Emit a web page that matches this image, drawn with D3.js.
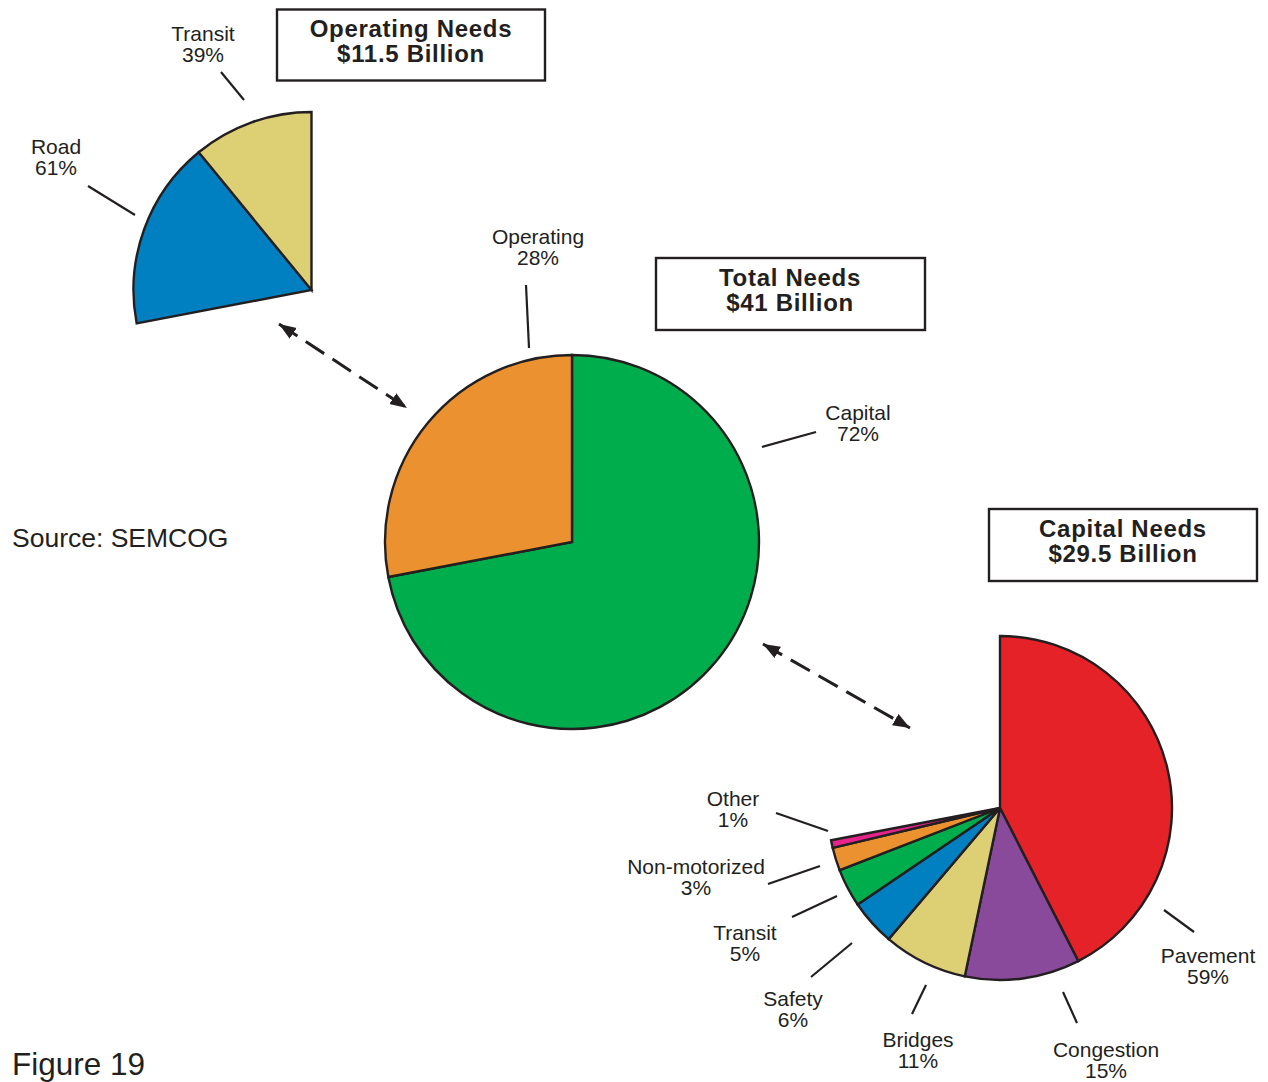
<!DOCTYPE html>
<html>
<head>
<meta charset="utf-8">
<script src="https://cdn.jsdelivr.net/npm/d3@7"></script>
<style>
  html, body { margin: 0; padding: 0; background: #ffffff; }
  svg { display: block; }
  text { font-family: "Liberation Sans", Arial, Helvetica, sans-serif; fill: #231F20; }
</style>
</head>
<body>
<svg id="chart" width="1268" height="1082"></svg>
<script>
// ---------------- DATA ----------------
const totalCategories = ["Capital", "Operating"];
const totalValues = [72, 28];

const operatingCategories = ["Road", "Transit"];
const operatingValues = [61, 39];

const capitalCategories = ["Pavement", "Congestion", "Bridges", "Safety", "Transit", "Non-motorized", "Other"];
const capitalValues = [59, 15, 11, 6, 5, 3, 1];

const titles = {
  total: ["Total Needs", "$41 Billion"],
  operating: ["Operating Needs", "$11.5 Billion"],
  capital: ["Capital Needs", "$29.5 Billion"]
};
const sourceText = "Source: SEMCOG";
const figureText = "Figure 19";

// ---------------- STYLE / LAYOUT ----------------
const totalColors = ["#00AD4D", "#EC9130"];
const operatingColors = ["#0080C0", "#DDCF73"];
const capitalColors = ["#E42228", "#8A4A9C", "#DDCF73", "#0080C0", "#00AD4D", "#EC9130", "#E6228B"];
const ink = "#231F20";

const totalPie = { cx: 572, cy: 542, r: 187 };
const opPie = { cx: 311.5, cy: 290, r: 178 };
const capPie = { cx: 1000, cy: 808, r: 172 };

// label layout: [text center x, first baseline y, leader x1, y1, x2, y2]
const totalLabelLayout = {
  Capital: [858, 420, 762, 447, 816, 432],
  Operating: [538, 244, 526, 285, 529, 348]
};
const opLabelLayout = {
  Road: [56, 154, 88, 186, 135, 215],
  Transit: [203, 41, 221, 72, 244, 100]
};
const capLabelLayout = {
  "Pavement": [1208, 963, 1164, 910, 1194, 932],
  "Congestion": [1106, 1057, 1063, 992, 1077, 1023],
  "Bridges": [918, 1047, 926, 985, 912, 1014],
  "Safety": [793, 1006, 811, 977, 852, 943],
  "Transit": [745, 940, 792, 917, 837, 896],
  "Non-motorized": [696, 874, 768, 884, 820, 866],
  "Other": [733, 806, 776, 813, 828, 831]
};

const boxes = {
  total: { x: 656, y: 258, w: 269, h: 72, cx: 790, b1: 286, b2: 311 },
  operating: { x: 277, y: 9.5, w: 268, h: 71, cx: 411, b1: 37, b2: 62 },
  capital: { x: 989, y: 509, w: 268, h: 72, cx: 1123, b1: 537, b2: 562 }
};

const arrows = [
  [279, 324, 407, 408],
  [763, 644, 910, 728]
];

// ---------------- DRAW ----------------
const svg = d3.select("#chart");

const defs = svg.append("defs");
defs.append("marker")
  .attr("id", "head")
  .attr("viewBox", "0 -7 17 14")
  .attr("refX", 17).attr("refY", 0)
  .attr("markerWidth", 17).attr("markerHeight", 14)
  .attr("markerUnits", "userSpaceOnUse")
  .attr("orient", "auto-start-reverse")
  .append("path")
  .attr("d", "M0,-6.5L17,0L0,6.5Z")
  .attr("fill", ink);

function drawPie(cfg, cats, vals, colors, start, end) {
  const pie = d3.pie().sort(null).value(d => d.v).startAngle(start).endAngle(end);
  const data = pie(cats.map((c, i) => ({ c, v: vals[i], col: colors[i] })));
  const arc = d3.arc().innerRadius(0).outerRadius(cfg.r);
  const g = svg.append("g").attr("transform", `translate(${cfg.cx},${cfg.cy})`);
  g.selectAll("path").data(data).join("path")
    .attr("d", arc)
    .attr("fill", d => d.data.col)
    .attr("stroke", ink)
    .attr("stroke-width", 2.4)
    .attr("stroke-linejoin", "miter");
  return data;
}

function drawLabels(layout, cats, vals) {
  cats.forEach((c, i) => {
    const L = layout[c];
    svg.append("line")
      .attr("x1", L[2]).attr("y1", L[3]).attr("x2", L[4]).attr("y2", L[5])
      .attr("stroke", ink).attr("stroke-width", 2.2);
    const t = svg.append("text")
      .attr("text-anchor", "middle")
      .attr("font-size", 21);
    t.append("tspan").attr("x", L[0]).attr("y", L[1]).text(c);
    t.append("tspan").attr("x", L[0]).attr("y", L[1] + 21).text(vals[i] + "%");
  });
}

// Total pie
const totalData = drawPie(totalPie, totalCategories, totalValues, totalColors, 0, 2 * Math.PI);
const opSlice = totalData[1];
const capSlice = totalData[0];

// Operating breakdown, drawn over the angular span of the Operating slice
drawPie(opPie, operatingCategories, operatingValues, operatingColors, opSlice.startAngle, opSlice.endAngle);

// Capital breakdown, drawn over the angular span of the Capital slice
drawPie(capPie, capitalCategories, capitalValues, capitalColors, capSlice.startAngle, capSlice.endAngle);

drawLabels(totalLabelLayout, totalCategories, totalValues);
drawLabels(opLabelLayout, operatingCategories, operatingValues);
drawLabels(capLabelLayout, capitalCategories, capitalValues);

// Title boxes
Object.keys(boxes).forEach(k => {
  const b = boxes[k];
  svg.append("rect")
    .attr("x", b.x).attr("y", b.y).attr("width", b.w).attr("height", b.h)
    .attr("fill", "none").attr("stroke", ink).attr("stroke-width", 2.4);
  const t = svg.append("text")
    .attr("text-anchor", "middle")
    .attr("font-size", 24)
    .attr("letter-spacing", 0.7)
    .attr("font-weight", "bold");
  t.append("tspan").attr("x", b.cx).attr("y", b.b1).text(titles[k][0]);
  t.append("tspan").attr("x", b.cx).attr("y", b.b2).text(titles[k][1]);
});

// Dashed double arrows
arrows.forEach(a => {
  svg.append("line")
    .attr("x1", a[0]).attr("y1", a[1]).attr("x2", a[2]).attr("y2", a[3])
    .attr("stroke", ink).attr("stroke-width", 3)
    .attr("stroke-dasharray", "22,10")
    .attr("marker-start", "url(#head)")
    .attr("marker-end", "url(#head)");
});

// Source & figure
svg.append("text").attr("x", 12).attr("y", 547).attr("font-size", 26.5).text(sourceText);
svg.append("text").attr("x", 12).attr("y", 1075).attr("font-size", 31.5).text(figureText);
</script>
</body>
</html>
